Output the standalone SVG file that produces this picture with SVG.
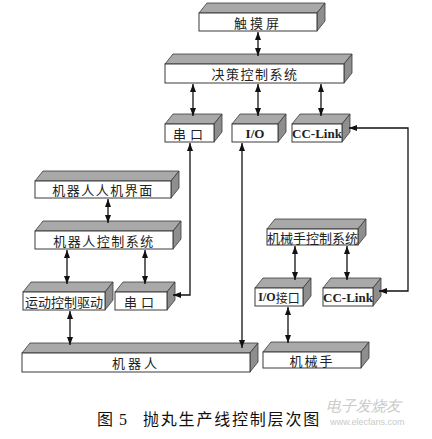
<svg xmlns="http://www.w3.org/2000/svg" width="432" height="439" viewBox="0 0 432 439">
<style>
.top{fill:#a9a9a9;stroke:#3a3a3a;stroke-width:0.8}
.side{fill:#8e8e8e;stroke:#3a3a3a;stroke-width:0.8}
.front{fill:#fff;stroke:#3a3a3a;stroke-width:1}
.t{font-family:"Noto Sans CJK SC",sans-serif;font-size:13px;fill:#222;text-anchor:middle;dominant-baseline:central}
.b{font-family:"Liberation Serif","Noto Sans CJK SC",serif;font-weight:bold;font-size:13px;fill:#222;text-anchor:middle;dominant-baseline:central}
.c{fill:none;stroke:#111;stroke-width:1.3;marker-start:url(#ah);marker-end:url(#ah)}
.wm{font-family:"Liberation Sans",sans-serif;fill:#c9c9c9}
</style>
<defs>
<marker id="ah" viewBox="0 0 8 6" refX="8" refY="3" markerWidth="8" markerHeight="6" markerUnits="userSpaceOnUse" orient="auto-start-reverse">
<path d="M0,0 L8,3 L0,6 z" fill="#111"/>
</marker>
</defs>
<rect width="432" height="439" fill="#fff"/>

<g id="touchscreen">
<polygon class="top" points="199,13 207,3 325,3 317,13"/>
<polygon class="side" points="317,13 325,3 325,21 317,31"/>
<rect class="front" x="199" y="13" width="118" height="18"/>
<text class="t" x="258" y="22" letter-spacing="3">触摸屏</text>
</g>

<g id="decision">
<polygon class="top" points="165,64 173,54 352,54 344,64"/>
<polygon class="side" points="344,64 352,54 352,73 344,83"/>
<rect class="front" x="165" y="64" width="179" height="19"/>
<text class="t" x="255" y="73.5" letter-spacing="1.5">决策控制系统</text>
</g>

<g id="serial-top">
<polygon class="top" points="165,124 173,114 222,114 214,124"/>
<polygon class="side" points="214,124 222,114 222,132 214,142"/>
<rect class="front" x="165" y="124" width="49" height="18"/>
<text class="t" x="190" y="133" font-size="12" letter-spacing="4">串口</text>
</g>

<g id="io-top">
<polygon class="top" points="232,124 240,114 286,114 278,124"/>
<polygon class="side" points="278,124 286,114 286,132 278,142"/>
<rect class="front" x="232" y="124" width="46" height="18"/>
<text class="b" x="255" y="133">I/O</text>
</g>

<g id="cclink-top">
<polygon class="top" points="292,124 300,114 350,114 342,124"/>
<polygon class="side" points="342,124 350,114 350,132 342,142"/>
<rect class="front" x="292" y="124" width="50" height="18"/>
<text class="b" x="317" y="133" font-size="12">CC-Link</text>
</g>

<g id="robot-hmi">
<polygon class="top" points="35,181 43,171 179,171 171,181"/>
<polygon class="side" points="171,181 179,171 179,188 171,198"/>
<rect class="front" x="35" y="181" width="136" height="17"/>
<text class="t" x="103" y="189.5" letter-spacing="1.5">机器人人机界面</text>
</g>

<g id="robot-ctrl">
<polygon class="top" points="35,231 43,221 181,221 173,231"/>
<polygon class="side" points="173,231 181,221 181,239 173,249"/>
<rect class="front" x="35" y="231" width="138" height="18"/>
<text class="t" x="104" y="240" letter-spacing="1.5">机器人控制系统</text>
</g>

<g id="motion-drive">
<polygon class="top" points="23,292 31,282 113,282 105,292"/>
<polygon class="side" points="105,292 113,282 113,300 105,310"/>
<rect class="front" x="23" y="292" width="82" height="18"/>
<text class="t" x="64" y="301">运动控制驱动</text>
</g>

<g id="serial-low">
<polygon class="top" points="115,292 123,282 175,282 167,292"/>
<polygon class="side" points="167,292 175,282 175,300 167,310"/>
<rect class="front" x="115" y="292" width="52" height="18"/>
<text class="t" x="141" y="301" font-size="12" letter-spacing="4">串口</text>
</g>

<g id="robot">
<polygon class="top" points="22,353 30,343 258,343 250,353"/>
<polygon class="side" points="250,353 258,343 258,362 250,372"/>
<rect class="front" x="22" y="353" width="228" height="19"/>
<text class="t" x="136" y="362.5" letter-spacing="3">机器人</text>
</g>

<g id="manip-ctrl">
<polygon class="top" points="267,229 275,219 366,219 358,229"/>
<polygon class="side" points="358,229 366,219 366,235 358,245"/>
<rect class="front" x="267" y="229" width="91" height="16"/>
<text class="t" x="312.5" y="237" font-size="12">机械手控制系统</text>
</g>

<g id="io-port">
<polygon class="top" points="255,288 263,278 311,278 303,288"/>
<polygon class="side" points="303,288 311,278 311,296 303,306"/>
<rect class="front" x="255" y="288" width="48" height="18"/>
<text x="279" y="297" text-anchor="middle" dominant-baseline="central" fill="#222"><tspan font-family="Liberation Serif" font-weight="bold" font-size="12">I/O</tspan><tspan font-family="Noto Sans CJK SC" font-size="12">接口</tspan></text>
</g>

<g id="cclink-low">
<polygon class="top" points="323,288 331,278 381,278 373,288"/>
<polygon class="side" points="373,288 381,278 381,296 373,306"/>
<rect class="front" x="323" y="288" width="50" height="18"/>
<text class="b" x="348" y="297" font-size="12">CC-Link</text>
</g>

<g id="manipulator">
<polygon class="top" points="263,352 271,342 369,342 361,352"/>
<polygon class="side" points="361,352 369,342 369,358 361,368"/>
<rect class="front" x="263" y="352" width="98" height="16"/>
<text class="t" x="312" y="360" letter-spacing="2">机械手</text>
</g>

<g id="connectors">
<path class="c" d="M258,32 V56"/>
<path class="c" d="M193,84 V116"/>
<path class="c" d="M258,84 V116"/>
<path class="c" d="M321,84 V116"/>
<path class="c" d="M190,143 V295 H173"/>
<path class="c" d="M242,143 V348"/>
<path class="c" d="M349,128 H408 V291 H379"/>
<path class="c" d="M108,199 V223"/>
<path class="c" d="M67,250 V284"/>
<path class="c" d="M145,250 V284"/>
<path class="c" d="M70,311 V345"/>
<path class="c" d="M295,246 V280"/>
<path class="c" d="M347,246 V280"/>
<path class="c" d="M288,307 V343"/>
</g>

<g id="caption">
<text x="97" y="425" font-family="Noto Sans CJK SC,serif" font-size="16" fill="#111">图</text>
<text x="119" y="425" font-family="Liberation Serif,serif" font-size="16" fill="#111">5</text>
<text x="143" y="425" font-family="Noto Sans CJK SC,serif" font-size="16" letter-spacing="1.8" fill="#111">抛丸生产线控制层次图</text>
</g>
<text class="wm" x="326" y="411" font-size="15" font-style="italic" font-family="Noto Sans CJK SC,sans-serif">电子发烧友</text>
<text class="wm" x="330" y="425" font-size="9">www.elecfans.com</text>
</svg>
